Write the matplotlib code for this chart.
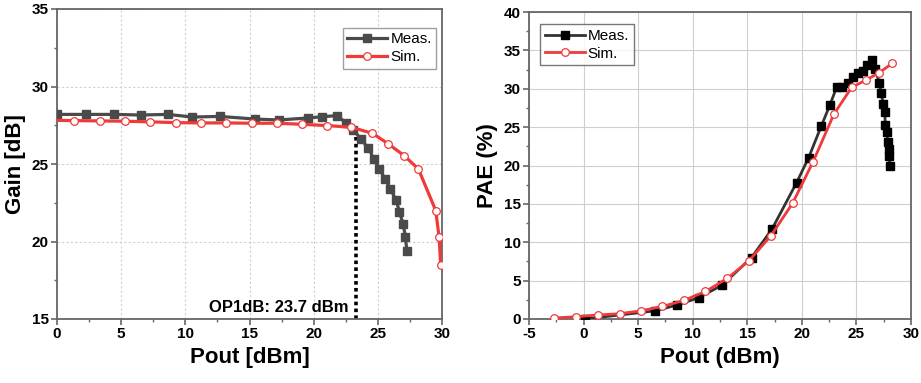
import matplotlib
matplotlib.use('Agg')
import matplotlib.pyplot as plt
from matplotlib.ticker import MultipleLocator

plt.rcParams['font.family'] = ['Liberation Sans', 'DejaVu Sans']
plt.rcParams['axes.unicode_minus'] = False

# gain vs pout
gain_meas_x = [0, 2.23, 4.47, 6.52, 8.62, 10.55, 12.68, 15.43, 17.28, 19.56, 20.63, 21.8, 22.53,
               23.1, 23.7, 24.27, 24.71, 25.12, 25.59, 25.98, 26.42, 26.68, 26.97, 27.15, 27.26]
gain_meas_y = [28.2, 28.2, 28.2, 28.16, 28.2, 28.03, 28.07, 27.9, 27.84, 27.97, 28.05, 28.12, 27.66,
               27.19, 26.59, 26.01, 25.3, 24.68, 24.01, 23.39, 22.68, 21.92, 21.13, 20.31, 19.39]
gain_sim_x = [-0.6, 1.33, 3.33, 5.27, 7.25, 9.25, 11.2, 13.17, 15.17, 17.15, 19.12, 21.04, 22.92,
              24.58, 25.83, 27.05, 28.16, 29.51, 29.77, 29.9]
gain_sim_y = [27.82, 27.8, 27.78, 27.76, 27.72, 27.67, 27.65, 27.65, 27.63, 27.63, 27.56, 27.48, 27.37,
              26.98, 26.29, 25.54, 24.68, 22.0, 20.29, 18.48]
op1db_x = 23.3
op1db_gain = 27.1
op1db_label = 'OP1dB: 23.7 dBm'

# pae vs pout
pae_meas_x = [0.1, 6.5, 8.57, 10.56, 12.7, 15.39, 17.26, 19.52, 20.62, 21.78, 22.55,
              23.19, 23.71, 24.25, 24.65, 25.11, 25.57, 26.0, 26.4, 26.7, 27.1, 27.25, 27.46,
              27.59, 27.65, 27.77, 27.89, 27.96, 27.99, 28.08]
pae_meas_y = [0.0, 1.05, 1.82, 2.78, 4.42, 8.01, 11.7, 17.77, 21.02, 25.14, 27.82,
              30.2, 30.2, 30.8, 31.5, 32.07, 32.25, 33.05, 33.7, 32.6, 30.8, 29.5, 28.05,
              26.98, 25.3, 24.3, 23.08, 22.1, 21.2, 19.92]
pae_sim_x = [-2.67, -0.66, 1.3, 3.32, 5.3, 7.23, 9.19, 11.17, 13.16, 15.15, 17.16, 19.15, 21.02,
             22.94, 24.56, 25.85, 27.07, 28.26]
pae_sim_y = [0.13, 0.3, 0.52, 0.69, 1.08, 1.64, 2.42, 3.59, 5.28, 7.58, 10.83, 15.08, 20.46,
             26.7, 30.17, 31.12, 32.07, 33.29]

red = '#f03a3a'
spine_col = '#666666'

fig = plt.figure(figsize=(9.21, 3.83), dpi=100)
ax1 = fig.add_axes([57 / 921, 1 - 319 / 383, 385 / 921, 310 / 383])
ax2 = fig.add_axes([529 / 921, 1 - 319 / 383, 382 / 921, 307 / 383])


def style_axes(ax, grid_ls):
    for s in ax.spines.values():
        s.set_color(spine_col)
        s.set_linewidth(1.3)
    ax.tick_params(which='major', direction='out', length=4, width=1.2, color=spine_col,
                   labelsize=11, pad=2)
    ax.tick_params(which='minor', direction='out', length=2.5, width=1.0, color=spine_col)
    for lbl in ax.get_xticklabels() + ax.get_yticklabels():
        lbl.set_fontweight('bold')
    ax.grid(True, which='major', color='#cfcfcf', linestyle=grid_ls, linewidth=0.8)
    ax.set_axisbelow(True)


# left: gain
ax1.plot(gain_meas_x, gain_meas_y, color='#4a4a4a', lw=2.3, marker='s', ms=5.8,
         label='Meas.', zorder=3)
ax1.plot(gain_sim_x, gain_sim_y, color=red, lw=2.3, marker='o', ms=5.5, mfc='white',
         mec=red, mew=0.9, label='Sim.', zorder=4)
ax1.plot([op1db_x, op1db_x], [15, op1db_gain], color='black', lw=2.6, linestyle=(0, (1, 0.9)),
         zorder=2)
ax1.text(op1db_x - 0.6, 15.75, op1db_label, ha='right', va='center', fontsize=12,
         fontweight='bold')
ax1.set_xlim(0, 30)
ax1.set_ylim(15, 35)
ax1.xaxis.set_major_locator(MultipleLocator(5))
ax1.xaxis.set_minor_locator(MultipleLocator(2.5))
ax1.yaxis.set_major_locator(MultipleLocator(5))
ax1.yaxis.set_minor_locator(MultipleLocator(2.5))
ax1.set_xlabel('Pout [dBm]', fontsize=16, fontweight='bold', labelpad=4)
ax1.set_ylabel('Gain [dB]', fontsize=16, fontweight='bold', labelpad=4)
style_axes(ax1, (0, (2, 2)))
leg1 = ax1.legend(loc='upper right', bbox_to_anchor=(0.985, 0.94), fontsize=11, frameon=True,
                  fancybox=False, edgecolor='#888888', handlelength=2.6, handletextpad=0.2,
                  borderpad=0.3, labelspacing=0.25, borderaxespad=0)
leg1.get_frame().set_linewidth(1.0)

# right: pae
ax2.plot(pae_meas_x, pae_meas_y, color='#333333', lw=2.0, marker='s', ms=5.8, mfc='black',
         mec='black', label='Meas.', zorder=3)
ax2.plot(pae_sim_x, pae_sim_y, color=red, lw=2.0, marker='o', ms=5.5, mfc='white',
         mec=red, mew=0.9, label='Sim.', zorder=4)
ax2.set_xlim(-5, 30)
ax2.set_ylim(0, 40)
ax2.xaxis.set_major_locator(MultipleLocator(5))
ax2.xaxis.set_minor_locator(MultipleLocator(2.5))
ax2.yaxis.set_major_locator(MultipleLocator(5))
ax2.yaxis.set_minor_locator(MultipleLocator(2.5))
ax2.set_xlabel('Pout (dBm)', fontsize=16, fontweight='bold', labelpad=4)
ax2.set_ylabel('PAE (%)', fontsize=16, fontweight='bold', labelpad=4)
style_axes(ax2, '-')
leg2 = ax2.legend(loc='upper left', bbox_to_anchor=(0.03, 0.96), fontsize=11, frameon=True,
                  fancybox=False, edgecolor='#555555', handlelength=2.6, handletextpad=0.2,
                  borderpad=0.3, labelspacing=0.25, borderaxespad=0)
leg2.get_frame().set_linewidth(1.0)

fig.savefig('out.png', dpi=100)
